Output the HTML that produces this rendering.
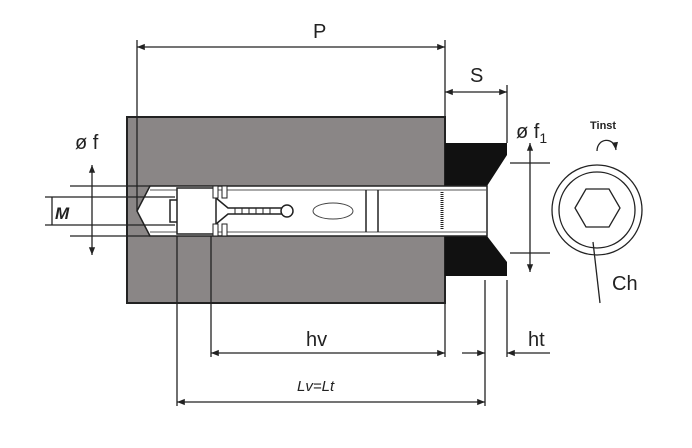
<!DOCTYPE html>
<html><head><style>body{margin:0;background:#fff}svg{display:block}</style></head><body>
<svg width="692" height="448" viewBox="0 0 692 448" xmlns="http://www.w3.org/2000/svg" font-family="Liberation Sans, sans-serif">
<defs>
<marker id="a" viewBox="0 0 10 10" refX="10" refY="5" markerWidth="9" markerHeight="6" orient="auto-start-reverse"><path d="M0,1 L10,5 L0,9 z" fill="#222"/></marker>
</defs>
<rect width="692" height="448" fill="#fff"/>
<!-- block -->
<rect x="127" y="117" width="318" height="186" fill="#8a8686" stroke="#222" stroke-width="2"/>
<!-- washer -->
<path d="M445,143 H507 V155 L487,186 H445 Z" fill="#111"/>
<path d="M445,236 H487 L507,262 V276 H445 Z" fill="#111"/>
<!-- hole -->
<path d="M150,186 H487 V236 H150 L137,211 Z" fill="#fff" stroke="#222" stroke-width="1.5"/>
<line x1="150" y1="190" x2="487" y2="190" stroke="#555" stroke-width="1"/>
<line x1="150" y1="232" x2="487" y2="232" stroke="#555" stroke-width="1"/>
<!-- anchor parts -->
<path d="M177,188 H216 V234 H177 Z" fill="#fff" stroke="#222" stroke-width="1.5"/>
<path d="M177,200 h-7 v22 h7" fill="none" stroke="#222" stroke-width="1.5"/>
<rect x="213" y="186" width="5" height="12" fill="#fff" stroke="#222"/>
<rect x="222" y="186" width="5" height="12" fill="#fff" stroke="#222"/>
<rect x="213" y="224" width="5" height="12" fill="#fff" stroke="#222"/>
<rect x="222" y="224" width="5" height="12" fill="#fff" stroke="#222"/>
<path d="M216,198 L228,208 H285 M216,224 L228,214 H285" fill="none" stroke="#222" stroke-width="1.5"/>
<path d="M235,208 v6 M242,208 v6 M249,208 v6 M256,208 v6 M263,208 v6 M270,208 v6" stroke="#222"/>
<circle cx="287" cy="211" r="6" fill="#fff" stroke="#222" stroke-width="1.5"/>
<ellipse cx="333" cy="211" rx="20" ry="8" fill="#fff" stroke="#444"/>
<line x1="366" y1="190" x2="366" y2="232" stroke="#222" stroke-width="1.5"/>
<line x1="378" y1="190" x2="378" y2="232" stroke="#222" stroke-width="1.5"/>
<line x1="442" y1="192" x2="442" y2="230" stroke="#222" stroke-width="3" stroke-dasharray="1 1"/>
<!-- extension lines -->
<g stroke="#222" stroke-width="1.3" fill="none">
<line x1="137" y1="40" x2="137" y2="211"/>
<line x1="445" y1="40" x2="445" y2="117"/>
<line x1="507" y1="85" x2="507" y2="143"/>
<line x1="177" y1="236" x2="177" y2="406"/>
<line x1="211" y1="236" x2="211" y2="357"/>
<line x1="445" y1="303" x2="445" y2="357"/>
<line x1="485" y1="280" x2="485" y2="406"/>
<line x1="507" y1="280" x2="507" y2="357"/>
<line x1="70" y1="186" x2="150" y2="186"/>
<line x1="70" y1="236" x2="150" y2="236"/>
<line x1="45" y1="197" x2="175" y2="197"/>
<line x1="45" y1="225" x2="175" y2="225"/>
<line x1="510" y1="163" x2="550" y2="163"/>
<line x1="510" y1="253" x2="550" y2="253"/>
<!-- dims -->
<line x1="137" y1="47" x2="445" y2="47" marker-start="url(#a)" marker-end="url(#a)"/>
<line x1="445" y1="92" x2="507" y2="92" marker-start="url(#a)" marker-end="url(#a)"/>
<line x1="530" y1="143" x2="530" y2="272" marker-start="url(#a)" marker-end="url(#a)"/>
<line x1="92" y1="165" x2="92" y2="255" marker-start="url(#a)" marker-end="url(#a)"/>
<line x1="52" y1="197" x2="52" y2="225"/>
<line x1="211" y1="353" x2="445" y2="353" marker-start="url(#a)" marker-end="url(#a)"/>
<line x1="462" y1="353" x2="485" y2="353" marker-end="url(#a)"/>
<line x1="550" y1="353" x2="507" y2="353" marker-end="url(#a)"/>
<line x1="177" y1="402" x2="485" y2="402" marker-start="url(#a)" marker-end="url(#a)"/>
<!-- head view -->
<circle cx="597" cy="210" r="45"/>
<circle cx="597" cy="210" r="38"/>
<polygon points="575,208 586,189 609,189 620,208 609,227 586,227"/>
<line x1="593" y1="242" x2="600" y2="303"/>
<path d="M597,151 C597,138 614,136 616,150" marker-end="url(#a)"/>
</g>
<g fill="#222" font-size="20">
<text x="313" y="38">P</text>
<text x="470" y="82">S</text>
<text x="75" y="149">ø f</text>
<text x="516" y="138">ø f<tspan font-size="14" dy="5">1</tspan></text>
<text x="55" y="219" font-style="italic" font-weight="bold" font-size="17">M</text>
<text x="306" y="346">hv</text>
<text x="528" y="346">ht</text>
<text x="612" y="290">Ch</text>
<text x="590" y="129" font-size="11" font-weight="bold">Tinst</text>
<text x="297" y="391" font-style="italic" font-size="15">Lv=Lt</text>
</g>
</svg>
</body></html>
